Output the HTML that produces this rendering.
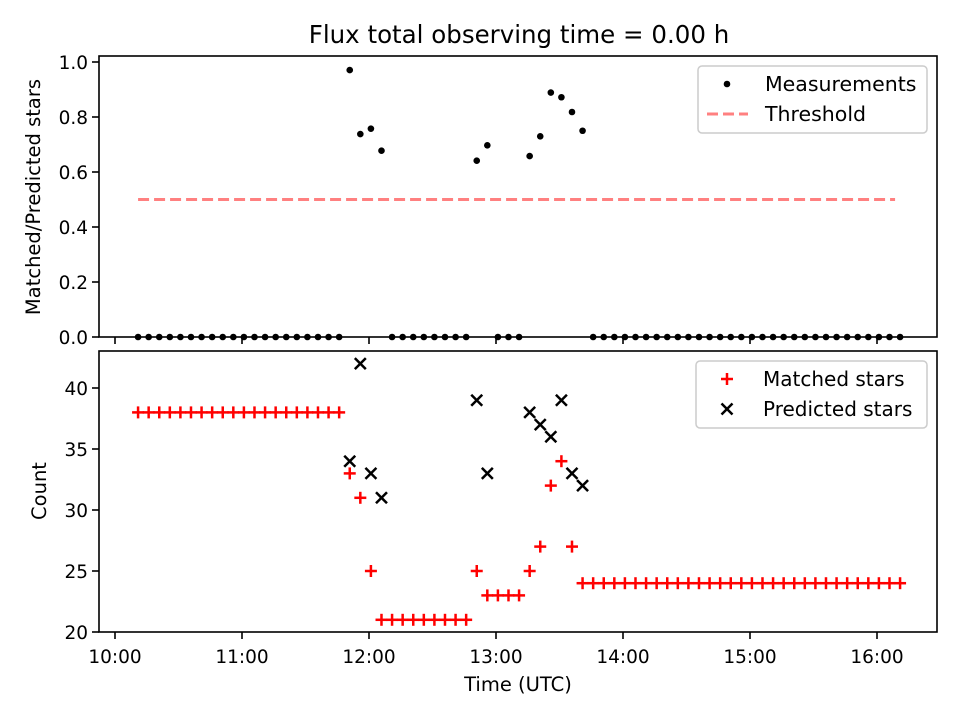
<!DOCTYPE html>
<html><head><meta charset="utf-8">
<style>
html,body{margin:0;padding:0;background:#fff;}
svg{display:block;font-family:"DejaVu Sans","Liberation Sans",sans-serif;}
</style></head>
<body>
<svg id="chart" width="960" height="720" viewBox="0 0 960 720"></svg>
<script>
// ---- data ----
const startMinute = 10.9; // minutes after 10:00 of first sample
const stepMinutes = 5;
const matched = [38,38,38,38,38,38,38,38,38,38,38,38,38,38,38,38,38,38,38,38,
  33,31,25,21,21,21,21,21,21,21,21,21,25,23,23,23,23,25,27,32,34,27,
  24,24,24,24,24,24,24,24,24,24,24,24,24,24,24,24,24,24,24,24,24,24,24,24,24,24,24,24,24,24,24];
const predicted = [null,null,null,null,null,null,null,null,null,null,null,null,null,null,null,null,null,null,null,null,
  34,42,33,31,null,null,null,null,null,null,null,null,39,33,null,null,null,38,37,36,39,33,32,
  null,null,null,null,null,null,null,null,null,null,null,null,null,null,null,null,null,null,null,null,null,null,null,null,null,null,null,null,null,null];
const threshold = 0.5;
const xTickLabels = ["10:00","11:00","12:00","13:00","14:00","15:00","16:00"];
const topYTicks = [0.0,0.2,0.4,0.6,0.8,1.0];
const botYTicks = [20,25,30,35,40];

// ---- scales ----
const X0=99, X1=937;
const xm = m => 115 + m/60*127;
const yTop = v => 337 - v*275;
const yBot = v => 632 - (v-20)*12.2;
const svg = document.getElementById('chart');
const NS='http://www.w3.org/2000/svg';
const TF=18.5;
function mk(tag, attrs, parent){
  const e=document.createElementNS(NS,tag);
  for(const k in attrs) e.setAttribute(k,attrs[k]);
  (parent||svg).appendChild(e); return e;
}
const times = matched.map((_,i)=>startMinute+stepMinutes*i);
const measurement = matched.map((m,i)=>predicted[i]==null?0:m/predicted[i]);

let t;
t=mk('text',{x:519,y:43,'font-size':24.5,'text-anchor':'middle',fill:'#000'});
t.textContent='Flux total observing time = 0.00 h';



// ---- top axes ----
const gTop=mk('g',{});


let th=mk('line',{x1:xm(times[0]),x2:xm(times[times.length-1])-5,y1:yTop(threshold),y2:yTop(threshold),stroke:'#ff8080','stroke-width':3,'stroke-dasharray':'11,5'},gTop);


measurement.forEach((v,i)=>{
  const c=mk('circle',{cx:xm(times[i]),cy:yTop(v),r:3.3,fill:'#000'},gTop);
  
  
});
topYTicks.forEach(v=>{
  mk('line',{x1:92,x2:99,y1:yTop(v),y2:yTop(v),stroke:'#000','stroke-width':1.6},gTop);
  const l=mk('text',{x:88,y:yTop(v)+7,'font-size':TF,'text-anchor':'end'},gTop);
  l.textContent=v.toFixed(1);
  
  
});
xTickLabels.forEach((s,i)=>{
  mk('line',{x1:xm(i*60),x2:xm(i*60),y1:337,y2:344,stroke:'#000','stroke-width':1.6},gTop);
});
mk('rect',{x:X0,y:56,width:X1-X0,height:281,fill:'none',stroke:'#000','stroke-width':1.6},gTop);
t=mk('text',{x:0,y:0,'font-size':19.5,'text-anchor':'middle',transform:'translate(40,197) rotate(-90)'},gTop);
t.textContent='Matched/Predicted stars';


// legend top
const lg1=mk('g',{});


mk('rect',{x:698,y:66,width:229,height:67,rx:4,fill:'#fff',stroke:'#ccc','stroke-width':1.5},lg1);
mk('circle',{cx:727,cy:84,r:3.3,fill:'#000'},lg1);
t=mk('text',{x:765,y:91,'font-size':20.5},lg1);t.textContent='Measurements';


mk('line',{x1:707,x2:748,y1:114,y2:114,stroke:'#ff8080','stroke-width':3,'stroke-dasharray':'11,5'},lg1);
t=mk('text',{x:765,y:121,'font-size':20.5},lg1);t.textContent='Threshold';



// ---- bottom axes ----
const gBot=mk('g',{});


function plus(cx,cy,p){
  const g=mk('g',{stroke:'#ff0000','stroke-width':2.5},p);
  mk('line',{x1:cx-6,x2:cx+6,y1:cy,y2:cy},g);
  mk('line',{x1:cx,x2:cx,y1:cy-6,y2:cy+6},g);
  return g;
}
function cross(cx,cy,p){
  const g=mk('g',{stroke:'#000','stroke-width':2.5},p);
  mk('line',{x1:cx-5.5,x2:cx+5.5,y1:cy-5.5,y2:cy+5.5},g);
  mk('line',{x1:cx-5.5,x2:cx+5.5,y1:cy+5.5,y2:cy-5.5},g);
  return g;
}
matched.forEach((v,i)=>{
  const g=plus(xm(times[i]),yBot(v),gBot);
  
  
});
predicted.forEach((v,i)=>{
  if(v==null) return;
  const g=cross(xm(times[i]),yBot(v),gBot);
  
  
});
botYTicks.forEach(v=>{
  mk('line',{x1:92,x2:99,y1:yBot(v),y2:yBot(v),stroke:'#000','stroke-width':1.6},gBot);
  const l=mk('text',{x:88,y:yBot(v)+7,'font-size':TF,'text-anchor':'end'},gBot);
  l.textContent=String(v);
  
  
});
xTickLabels.forEach((s,i)=>{
  mk('line',{x1:xm(i*60),x2:xm(i*60),y1:632,y2:639,stroke:'#000','stroke-width':1.6},gBot);
  const l=mk('text',{x:xm(i*60),y:663,'font-size':TF,'text-anchor':'middle'},gBot);
  l.textContent=s;
  
  
});
mk('rect',{x:X0,y:351,width:X1-X0,height:281,fill:'none',stroke:'#000','stroke-width':1.6},gBot);
t=mk('text',{x:0,y:0,'font-size':19.5,'text-anchor':'middle',transform:'translate(46,491) rotate(-90)'},gBot);
t.textContent='Count';


t=mk('text',{x:518,y:691,'font-size':19.5,'text-anchor':'middle'});
t.textContent='Time (UTC)';


// legend bottom
const lg2=mk('g',{});


mk('rect',{x:696,y:361,width:231,height:67,rx:4,fill:'#fff',stroke:'#ccc','stroke-width':1.5},lg2);
plus(727,379,lg2);
t=mk('text',{x:763,y:386,'font-size':20},lg2);t.textContent='Matched stars';


cross(727,409,lg2);
t=mk('text',{x:763,y:416,'font-size':20},lg2);t.textContent='Predicted stars';


</script>
</body></html>
